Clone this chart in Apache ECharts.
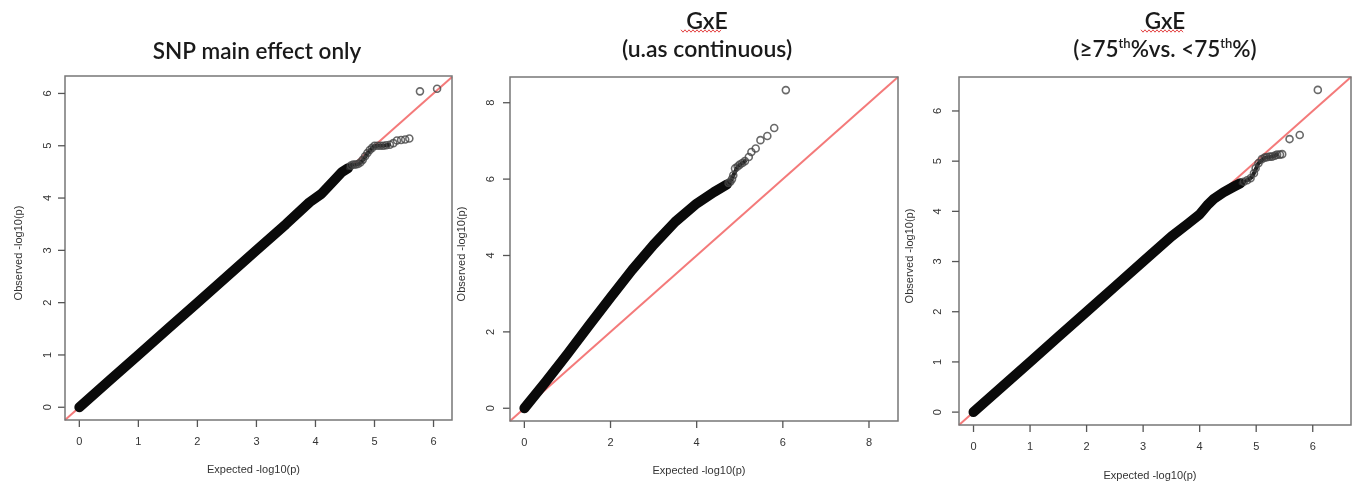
<!DOCTYPE html>
<html><head><meta charset="utf-8">
<script src="https://cdn.jsdelivr.net/npm/echarts@6/dist/echarts.min.js"></script>
<style>html,body{margin:0;padding:0;background:#fff}#c{width:1358px;height:489px}</style>
</head><body><div id="c"></div>
<script>
// ---- text ----
const titleP1 = 'SNP main effect only';
const titleP2 = 'GxE\n(u.as continuous)';
const titleP3 = 'GxE\n(≥75{sup|th}%vs. <75{sup|th}%)';
const xName = 'Expected -log10(p)';
const yName = 'Observed -log10(p)';

// ---- tick labels ----
const ticksP1 = [0, 1, 2, 3, 4, 5, 6];
const ticksP2 = [0, 2, 4, 6, 8];
const ticksP3 = [0, 1, 2, 3, 4, 5, 6];

// ---- Panel 1: SNP main effect only ----
const p1BandExp = [0.0, 0.5, 1.0, 1.5, 2.0, 2.5, 3.0, 3.5, 3.9, 4.1, 4.3, 4.45, 4.55];
const p1BandObs = [0.0, 0.5, 1.0, 1.5, 2.0, 2.5, 3.0, 3.5, 3.92, 4.08, 4.32, 4.5, 4.57];
const p1UpperExp = [4.55, 4.6, 4.72, 4.8, 4.9, 4.98, 5.05, 5.15, 5.25];
const p1UpperObs = [4.57, 4.63, 4.64, 4.72, 4.88, 4.98, 5.0, 5.0, 5.02];
const p1TailExp = [4.6, 4.64, 4.68, 4.72, 4.76, 4.8, 4.84, 4.88, 4.92, 4.96, 5.0, 5.05, 5.1, 5.15, 5.2, 5.26, 5.32, 5.38, 5.45, 5.52, 5.59, 5.77, 6.06];
const p1TailObs = [4.62, 4.64, 4.64, 4.65, 4.68, 4.73, 4.8, 4.86, 4.92, 4.96, 5.0, 5.0, 5.0, 5.0, 5.01, 5.02, 5.05, 5.1, 5.11, 5.12, 5.14, 6.04, 6.09];

// ---- Panel 2: GxE (u.as continuous) ----
const p2BandExp = [0.0, 0.5, 1.0, 1.5, 2.0, 2.5, 3.0, 3.5, 4.0, 4.4, 4.7];
const p2BandObs = [0.0, 0.7, 1.42, 2.17, 2.9, 3.62, 4.28, 4.88, 5.36, 5.66, 5.86];
const p2UpperExp = [4.7, 4.78, 4.85, 4.95, 5.06, 5.12];
const p2UpperObs = [5.86, 5.93, 6.1, 6.33, 6.42, 6.47];
const p2TailExp = [4.74, 4.78, 4.82, 4.85, 4.89, 4.95, 5.0, 5.06, 5.12, 5.21, 5.27, 5.37, 5.48, 5.64, 5.80, 6.07];
const p2TailObs = [5.9, 5.93, 6.0, 6.1, 6.28, 6.33, 6.38, 6.42, 6.47, 6.58, 6.71, 6.80, 7.02, 7.13, 7.34, 8.33];

// ---- Panel 3: GxE (>=75th% vs <75th%) ----
const p3BandExp = [0.0, 0.5, 1.0, 1.5, 2.0, 2.5, 3.0, 3.5, 3.8, 4.0, 4.15, 4.25, 4.42, 4.6, 4.72];
const p3BandObs = [0.0, 0.5, 1.0, 1.5, 2.0, 2.5, 3.0, 3.5, 3.76, 3.94, 4.14, 4.25, 4.38, 4.49, 4.56];
const p3UpperExp = [4.72, 4.84, 4.92, 4.96, 5.04, 5.15, 5.28, 5.37];
const p3UpperObs = [4.56, 4.62, 4.68, 4.76, 4.96, 5.07, 5.09, 5.13];
const p3TailExp = [4.78, 4.84, 4.9, 4.96, 4.99, 5.04, 5.10, 5.15, 5.19, 5.24, 5.28, 5.33, 5.37, 5.42, 5.46, 5.59, 5.77, 6.09];
const p3TailObs = [4.59, 4.62, 4.66, 4.76, 4.86, 4.96, 5.04, 5.07, 5.08, 5.09, 5.09, 5.11, 5.13, 5.13, 5.14, 5.44, 5.52, 6.42];

const zip = (a, b) => a.map((v, i) => [v, b[i]]);

// plot boxes (px) and their data ranges; the grid is padded left/bottom so the
// outward tick marks fall inside the grid's drawing area
const PAD = 10;
const panels = [
  { box: { left: 65, top: 76, width: 387, height: 344 },
    x: [-0.2428, 6.3128], y: [-0.2436, 6.3336], ticks: ticksP1,
    xm: 16, ym: 12, xg: 44, yg: 41,
    band: zip(p1BandExp, p1BandObs), upper: zip(p1UpperExp, p1UpperObs), tail: zip(p1TailExp, p1TailObs) },
  { box: { left: 510, top: 77, width: 388, height: 344 },
    x: [-0.3336, 8.6736], y: [-0.3336, 8.6736], ticks: ticksP2,
    xm: 16, ym: 14, xg: 44, yg: 43,
    band: zip(p2BandExp, p2BandObs), upper: zip(p2UpperExp, p2UpperObs), tail: zip(p2TailExp, p2TailObs) },
  { box: { left: 959, top: 77, width: 392, height: 348 },
    x: [-0.2568, 6.6768], y: [-0.2568, 6.6768], ticks: ticksP3,
    xm: 16, ym: 16, xg: 45, yg: 44,
    band: zip(p3BandExp, p3BandObs), upper: zip(p3UpperExp, p3UpperObs), tail: zip(p3TailExp, p3TailObs) }
];
panels.forEach(p => {
  p.grid = { left: p.box.left - PAD, top: p.box.top, width: p.box.width + PAD, height: p.box.height + PAD };
  p.xMinAxis = p.x[0] - PAD * (p.x[1] - p.x[0]) / p.box.width;
  p.yMinAxis = p.y[0] - PAD * (p.y[1] - p.y[0]) / p.box.height;
  const lo = Math.max(p.x[0], p.y[0]), hi = Math.min(p.x[1], p.y[1]);
  p.ref = [[lo, lo], [hi, hi]]; // y = x across the plot box
});

const axisFont = 'Liberation Sans, Arial, sans-serif';
const titleFont = 'Lato, "Open Sans", sans-serif';
const tickColor = '#555';
const boxColor = '#777';
const TICK_LEN = 7;

function wavy(x0, x1, y) {
  const pts = [];
  let k = 0;
  for (let x = x0; x <= x1; x += 2, k++) pts.push([x, y + (k % 2 ? 1.2 : -1.2)]);
  return pts;
}

// box + outward ticks, positioned through the axis scales
function frameSeries(p, i) {
  return {
    type: 'custom', xAxisIndex: i, yAxisIndex: i, clip: false, silent: true, z: 6,
    data: p.ticks.map(t => [t]),
    renderItem: function (params, api) {
      const t = api.value(0);
      const bx = api.coord([t, p.y[0]]);
      const by = api.coord([p.x[0], t]);
      const children = [
        { type: 'line', shape: { x1: bx[0], y1: bx[1], x2: bx[0], y2: bx[1] + TICK_LEN },
          style: { stroke: tickColor, lineWidth: 1.3 } },
        { type: 'line', shape: { x1: by[0], y1: by[1], x2: by[0] - TICK_LEN, y2: by[1] },
          style: { stroke: tickColor, lineWidth: 1.3 } }
      ];
      if (params.dataIndex === 0) {
        const a = api.coord([p.x[0], p.y[1]]);
        const b = api.coord([p.x[1], p.y[0]]);
        children.push({ type: 'rect', shape: { x: a[0], y: a[1], width: b[0] - a[0], height: b[1] - a[1] },
          style: { stroke: boxColor, lineWidth: 1.5, fill: 'none' } });
      }
      return { type: 'group', children: children };
    }
  };
}

const option = {
  animation: false,
  backgroundColor: '#fff',
  title: [
    { text: titleP1, left: 252, top: 35, textAlign: 'center',
      textStyle: { fontFamily: titleFont, fontSize: 22.5, fontWeight: 600, color: '#1a1a1a' } },
    { text: titleP2, left: 702, top: 3, textAlign: 'center',
      textStyle: { fontFamily: titleFont, fontSize: 23, fontWeight: 600, color: '#1a1a1a', lineHeight: 28 } },
    { text: titleP3, left: 1160, top: 3, textAlign: 'center',
      textStyle: { fontFamily: titleFont, fontSize: 22.5, fontWeight: 600, color: '#1a1a1a', lineHeight: 28,
        rich: { sup: { fontFamily: titleFont, fontSize: 13, fontWeight: 600, color: '#1a1a1a', lineHeight: 28, padding: [0, 0, 12, 0] } } } }
  ],
  grid: panels.map(p => Object.assign({ show: false, containLabel: false }, p.grid)),
  xAxis: panels.map((p, i) => ({
    type: 'value', gridIndex: i, min: p.xMinAxis, max: p.x[1], position: 'bottom',
    name: xName, nameLocation: 'middle', nameGap: p.xg - PAD,
    nameTextStyle: { fontFamily: axisFont, fontSize: 11, color: '#333' },
    axisLine: { show: false, onZero: false },
    splitLine: { show: false },
    axisTick: { show: false },
    axisLabel: { customValues: p.ticks, margin: p.xm - PAD, fontFamily: axisFont, fontSize: 11, color: '#333' }
  })),
  yAxis: panels.map((p, i) => ({
    type: 'value', gridIndex: i, min: p.yMinAxis, max: p.y[1], position: 'left',
    name: yName, nameLocation: 'middle', nameGap: p.yg - PAD, nameRotate: 90,
    nameTextStyle: { fontFamily: axisFont, fontSize: 11, color: '#333' },
    axisLine: { show: false, onZero: false },
    splitLine: { show: false },
    axisTick: { show: false },
    axisLabel: { customValues: p.ticks, rotate: 90, margin: p.ym - PAD, fontFamily: axisFont, fontSize: 11, color: '#333' }
  })),
  series: panels.flatMap((p, i) => [
    { type: 'line', xAxisIndex: i, yAxisIndex: i, data: p.ref, symbol: 'none', clip: true,
      lineStyle: { color: '#f47a7a', width: 2 }, z: 2 },
    { type: 'line', xAxisIndex: i, yAxisIndex: i, data: p.band, symbol: 'none', clip: true,
      lineStyle: { color: '#0a0a0a', width: 10, cap: 'round', join: 'round' }, z: 3 },
    { type: 'line', xAxisIndex: i, yAxisIndex: i, data: p.upper, symbol: 'none', clip: true,
      lineStyle: { color: '#222', width: 4, cap: 'round', join: 'round' }, z: 3 },
    { type: 'scatter', xAxisIndex: i, yAxisIndex: i, data: p.tail, symbol: 'circle', symbolSize: 7,
      itemStyle: { color: 'rgba(0,0,0,0)', borderColor: '#444', borderWidth: 1.6 }, z: 4 },
    frameSeries(p, i)
  ]),
  graphic: [
    { type: 'polyline', shape: { points: wavy(681, 722, 31) }, style: { stroke: '#e03030', lineWidth: 0.9, fill: null } },
    { type: 'polyline', shape: { points: wavy(1141, 1183, 31) }, style: { stroke: '#e03030', lineWidth: 0.9, fill: null } }
  ]
};

const chart = echarts.init(document.getElementById('c'), null, { renderer: 'canvas' });
chart.setOption(option);
</script>
</body></html>
